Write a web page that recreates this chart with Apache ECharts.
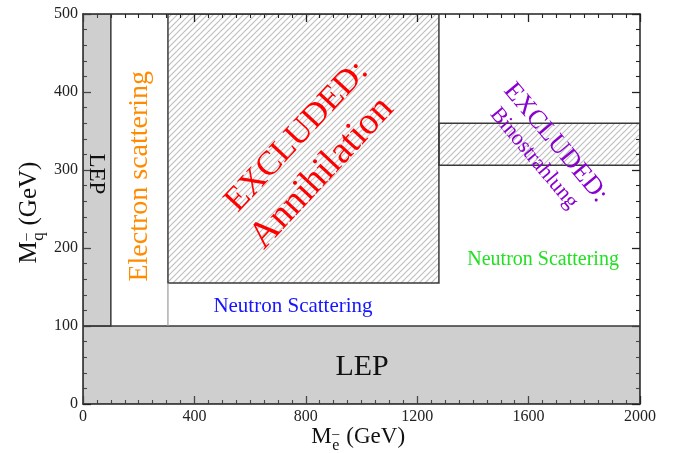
<!DOCTYPE html>
<html>
<head>
<meta charset="utf-8">
<script src="https://cdn.jsdelivr.net/npm/echarts@6/dist/echarts.min.js"></script>
<style>html,body{margin:0;padding:0;background:#fff}#c{width:679px;height:453px}</style>
</head>
<body>
<div id="c"></div>
<script>
// ---- data (GeV) ----
const xTickValues = [0, 400, 800, 1200, 1600, 2000];
const yTickValues = [0, 100, 200, 300, 400, 500];
const regionNames = ['LEP (squark)', 'LEP (selectron)', 'Annihilation', 'Binostrahlung'];
const regionXMin = [0, 0, 305, 1278];
const regionXMax = [2000, 100, 1278, 2000];
const regionYMin = [0, 100, 155, 306];
const regionYMax = [100, 500, 500, 360];
const electronBoundaryX = [305, 305];
const electronBoundaryY = [100, 155];

// ---- annotations ----
const annotations = [
  {text: 'LEP', x: 47, y: 295, rot: -90, size: 23, color: '#111'},
  {text: 'Electron scattering', x: 205, y: 292, rot: 90, size: 28, color: '#ff8c00'},
  {text: 'EXCLUDED:', x: 768, y: 343, rot: 47, size: 34, color: '#ff0000'},
  {text: 'Annihilation', x: 858, y: 296, rot: 47, size: 38, color: '#ff0000'},
  {text: 'EXCLUDED:', x: 1697, y: 335, rot: -50, size: 26, color: '#8a00d0'},
  {text: 'Binostrahlung', x: 1619, y: 315, rot: -50, size: 22, color: '#8a00d0'},
  {text: 'Neutron Scattering', x: 754, y: 125, rot: 0, size: 21, color: '#1515ff'},
  {text: 'Neutron Scattering', x: 1652, y: 185, rot: 0, size: 20, color: '#22e022'},
  {text: 'LEP', x: 1002, y: 47, rot: 0, size: 30, color: '#111'}
];

const FONT = "'Liberation Serif','DejaVu Serif',serif";

// hatch pattern (transparent background so the inner ticks stay visible)
const pat = document.createElement('canvas');
const S = 6;
pat.width = S; pat.height = S;
const pc = pat.getContext('2d');
pc.clearRect(0, 0, S, S);
pc.strokeStyle = 'rgba(0,0,0,0.26)';
pc.lineWidth = 1.15;
[0, S, 2 * S].forEach(function (c) {
  pc.beginPath();
  pc.moveTo(-1, c + 1);
  pc.lineTo(c + 1, -1);
  pc.stroke();
});

const greyFill = 'rgba(128,128,128,0.38)';
const regionFill = [greyFill, greyFill, {image: pat, repeat: 'repeat'}, {image: pat, repeat: 'repeat'}];
const regionData = regionNames.map(function (n, i) {
  return [regionXMin[i], regionXMax[i], regionYMin[i], regionYMax[i]];
});

const chart = echarts.init(document.getElementById('c'));

const axisColor = '#222';
function xAxisDef(pos, showLabel) {
  return {
    type: 'value', position: pos, min: 0, max: 2000, interval: 400,
    axisLine: {show: true, onZero: false, lineStyle: {color: axisColor, width: 1.5}},
    axisTick: {show: true, inside: true, length: 8, lineStyle: {color: axisColor, width: 1.3}},
    minorTick: {show: true, splitNumber: 8, length: 4, lineStyle: {color: axisColor, width: 1.1}},
    splitLine: {show: false},
    axisLabel: {show: showLabel, margin: 5, color: '#222', fontFamily: FONT, fontSize: 16,
      formatter: function (v) { return String(v); }}
  };
}
function yAxisDef(pos, showLabel) {
  return {
    type: 'value', position: pos, min: 0, max: 500, interval: 100,
    axisLine: {show: true, onZero: false, lineStyle: {color: axisColor, width: 1.5}},
    axisTick: {show: true, inside: true, length: 8, lineStyle: {color: axisColor, width: 1.3}},
    minorTick: {show: true, splitNumber: 5, length: 4, lineStyle: {color: axisColor, width: 1.1}},
    splitLine: {show: false},
    axisLabel: {show: showLabel, margin: 5, color: '#222', fontFamily: FONT, fontSize: 16,
      formatter: function (v) { return String(v); }}
  };
}

const GL = 83, GR = 640, GT = 14, GB = 404;

function axisTitle(sub, cx, cy, rotation, f) {
  const k = f / 22;
  const st = function (t, size) {
    return {text: t, font: size + 'px ' + FONT, fill: '#111', textAlign: 'left', textVerticalAlign: 'middle', align: 'left', verticalAlign: 'middle'};
  };
  return {
    type: 'group', x: cx, y: cy, rotation: rotation,
    children: [
      {type: 'text', x: -48 * k, y: 0, style: st('M', f)},
      {type: 'text', x: -28 * k, y: -3 * k, style: st('\u2013', Math.round(13 * k))},
      {type: 'text', x: -28 * k, y: 8 * k, style: st(sub, Math.round(15 * k))},
      {type: 'text', x: -20 * k, y: 0, style: st(' (GeV)', f)}
    ]
  };
}

chart.setOption({
  animation: false,
  grid: {left: GL, right: 679 - GR, top: GT, bottom: 453 - GB},
  xAxis: [xAxisDef('bottom', true), xAxisDef('top', false)],
  yAxis: [yAxisDef('left', true), yAxisDef('right', false)],
  graphic: [
    axisTitle('e', (GL + GR) / 2, 437, 0, 23),
    axisTitle('q', 29, (GT + GB) / 2, Math.PI / 2, 25)
  ],
  series: [
    {
      type: 'custom', name: 'regions', clip: true, z: 1,
      data: regionData,
      renderItem: function (params, api) {
        const i = params.dataIndex;
        const p0 = api.coord([api.value(0), api.value(3)]);
        const p1 = api.coord([api.value(1), api.value(2)]);
        return {
          type: 'rect',
          shape: {x: p0[0], y: p0[1], width: p1[0] - p0[0], height: p1[1] - p0[1]},
          style: {fill: regionFill[i], stroke: '#3a3a3a', lineWidth: 1.5}
        };
      }
    },
    {
      type: 'line', name: 'electron boundary', z: 2,
      data: electronBoundaryX.map(function (x, i) { return [x, electronBoundaryY[i]]; }),
      symbol: 'none', lineStyle: {color: '#9a9a9a', width: 1.2}
    },
    {
      type: 'custom', name: 'annotations', z: 3, clip: false,
      data: annotations.map(function (a) { return [a.x, a.y]; }),
      renderItem: function (params, api) {
        const a = annotations[params.dataIndex];
        const p = api.coord([api.value(0), api.value(1)]);
        return {
          type: 'text', x: p[0], y: p[1], rotation: a.rot * Math.PI / 180,
          style: {text: a.text, font: a.size + 'px ' + FONT, fill: a.color,
            textAlign: 'center', textVerticalAlign: 'middle', align: 'center', verticalAlign: 'middle'}
        };
      }
    }
  ]
});
</script>
</body>
</html>
